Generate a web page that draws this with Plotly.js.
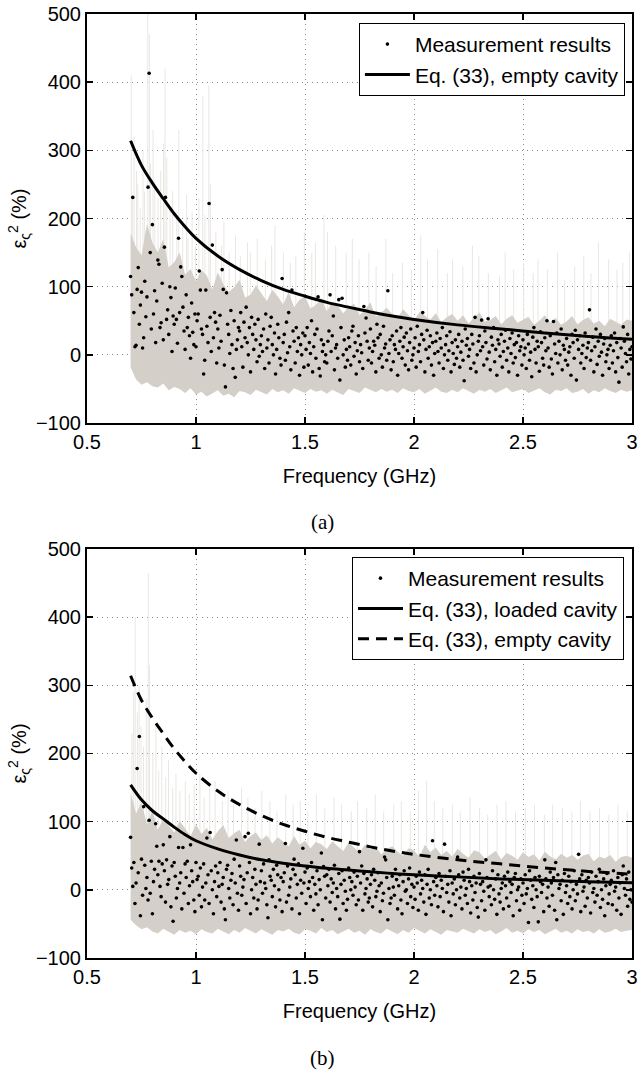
<!DOCTYPE html>
<html><head><meta charset="utf-8">
<script src="https://cdn.plot.ly/plotly-3.0.1.min.js"></script>
<style>html,body{margin:0;padding:0;background:#fff}#chart{width:638px;height:1073px}</style>
</head><body><div id="chart"></div>
<script>
// ---------- data ----------
const freq = [
0.700,0.705,0.710,0.715,0.720,0.725,0.730,0.735,0.740,0.745,0.750,0.755,0.760,0.765,0.770,0.775,0.780,0.785,0.790,0.795,
0.800,0.805,0.810,0.815,0.820,0.825,0.830,0.835,0.840,0.845,0.850,0.855,0.860,0.865,0.870,0.875,0.880,0.885,0.890,0.895,
0.900,0.905,0.910,0.915,0.920,0.925,0.930,0.935,0.940,0.945,0.950,0.955,0.960,0.965,0.970,0.975,0.980,0.985,0.990,0.995,
1.000,1.005,1.010,1.015,1.020,1.025,1.030,1.035,1.040,1.045,1.050,1.055,1.060,1.065,1.070,1.075,1.080,1.085,1.090,1.095,
1.100,1.105,1.110,1.115,1.120,1.125,1.130,1.135,1.140,1.145,1.150,1.155,1.160,1.165,1.170,1.175,1.180,1.185,1.190,1.195,
1.200,1.205,1.210,1.215,1.220,1.225,1.230,1.235,1.240,1.245,1.250,1.255,1.260,1.265,1.270,1.275,1.280,1.285,1.290,1.295,
1.300,1.305,1.310,1.315,1.320,1.325,1.330,1.335,1.340,1.345,1.350,1.355,1.360,1.365,1.370,1.375,1.380,1.385,1.390,1.395,
1.400,1.405,1.410,1.415,1.420,1.425,1.430,1.435,1.440,1.445,1.450,1.455,1.460,1.465,1.470,1.475,1.480,1.485,1.490,1.495,
1.500,1.505,1.510,1.515,1.520,1.525,1.530,1.535,1.540,1.545,1.550,1.555,1.560,1.565,1.570,1.575,1.580,1.585,1.590,1.595,
1.600,1.605,1.610,1.615,1.620,1.625,1.630,1.635,1.640,1.645,1.650,1.655,1.660,1.665,1.670,1.675,1.680,1.685,1.690,1.695,
1.700,1.705,1.710,1.715,1.720,1.725,1.730,1.735,1.740,1.745,1.750,1.755,1.760,1.765,1.770,1.775,1.780,1.785,1.790,1.795,
1.800,1.805,1.810,1.815,1.820,1.825,1.830,1.835,1.840,1.845,1.850,1.855,1.860,1.865,1.870,1.875,1.880,1.885,1.890,1.895,
1.900,1.905,1.910,1.915,1.920,1.925,1.930,1.935,1.940,1.945,1.950,1.955,1.960,1.965,1.970,1.975,1.980,1.985,1.990,1.995,
2.000,2.005,2.010,2.015,2.020,2.025,2.030,2.035,2.040,2.045,2.050,2.055,2.060,2.065,2.070,2.075,2.080,2.085,2.090,2.095,
2.100,2.105,2.110,2.115,2.120,2.125,2.130,2.135,2.140,2.145,2.150,2.155,2.160,2.165,2.170,2.175,2.180,2.185,2.190,2.195,
2.200,2.205,2.210,2.215,2.220,2.225,2.230,2.235,2.240,2.245,2.250,2.255,2.260,2.265,2.270,2.275,2.280,2.285,2.290,2.295,
2.300,2.305,2.310,2.315,2.320,2.325,2.330,2.335,2.340,2.345,2.350,2.355,2.360,2.365,2.370,2.375,2.380,2.385,2.390,2.395,
2.400,2.405,2.410,2.415,2.420,2.425,2.430,2.435,2.440,2.445,2.450,2.455,2.460,2.465,2.470,2.475,2.480,2.485,2.490,2.495,
2.500,2.505,2.510,2.515,2.520,2.525,2.530,2.535,2.540,2.545,2.550,2.555,2.560,2.565,2.570,2.575,2.580,2.585,2.590,2.595,
2.600,2.605,2.610,2.615,2.620,2.625,2.630,2.635,2.640,2.645,2.650,2.655,2.660,2.665,2.670,2.675,2.680,2.685,2.690,2.695,
2.700,2.705,2.710,2.715,2.720,2.725,2.730,2.735,2.740,2.745,2.750,2.755,2.760,2.765,2.770,2.775,2.780,2.785,2.790,2.795,
2.800,2.805,2.810,2.815,2.820,2.825,2.830,2.835,2.840,2.845,2.850,2.855,2.860,2.865,2.870,2.875,2.880,2.885,2.890,2.895,
2.900,2.905,2.910,2.915,2.920,2.925,2.930,2.935,2.940,2.945,2.950,2.955,2.960,2.965,2.970,2.975,2.980,2.985,2.990,2.995,
3.000];

// (a) measurement results, %
const measA = [
115,88,231,62,12,14,96,128,45,73,92,10,25,108,56,85,246,413,150,38,
191,60,94,18,79,139,133,40,47,105,22,158,231,52,66,30,100,84,5,57,
45,98,52,17,171,62,129,115,70,35,8,88,40,55,28,-5,76,33,15,60,
12,50,60,123,95,38,30,-28,-8,95,42,18,222,55,5,161,25,62,48,-12,
38,10,58,20,125,96,-15,-47,91,45,30,2,65,15,-20,50,-33,8,22,40,
35,62,12,-18,48,25,70,18,0,40,-25,55,30,8,45,22,-10,52,-2,15,
28,5,38,-20,60,10,22,-12,42,55,15,0,32,-28,8,45,25,-5,-15,112,
18,30,-8,48,3,62,12,-22,95,35,20,-12,40,5,25,-30,15,0,32,-18,
28,8,40,-15,18,2,50,-25,12,30,-5,38,85,-20,-31,22,5,15,-10,0,
-12,20,35,88,5,28,57,-22,10,15,-5,81,-37,40,83,0,22,-18,8,-8,
25,12,-15,35,42,-2,18,-28,6,28,-10,15,3,-20,71,32,54,20,-8,10,
38,-12,5,20,14,-25,45,25,-5,30,0,-18,42,10,16,-8,94,2,22,-22,
28,-10,15,8,35,-30,2,20,40,-5,12,26,-15,32,6,-22,18,38,-8,0,
10,25,-18,42,5,15,-10,30,62,22,-25,8,36,-5,12,28,-15,18,-30,2,
20,32,5,-12,24,10,40,-20,0,15,28,-8,6,34,-25,18,2,-14,22,-5,
12,30,-18,4,20,-8,-38,38,14,24,-2,8,-20,30,16,-12,55,-25,0,20,
28,6,51,12,-15,35,18,-6,53,4,-22,26,14,40,-10,8,-30,22,16,-2,
30,-18,5,20,36,-8,10,-25,24,2,32,-12,15,-4,18,-30,28,6,12,-15,
22,0,10,-20,30,16,-8,4,-32,26,40,8,-12,20,12,-24,34,18,-5,-15,
25,6,50,10,-18,28,-6,-28,49,16,2,32,-12,20,0,38,-22,14,8,-8,
24,-15,4,12,-30,30,18,-5,36,-37,22,8,28,-12,2,14,-20,32,-4,10,
18,66,-8,6,26,-25,12,38,-14,20,-2,30,4,-30,16,24,-10,0,8,-20,
14,28,-12,6,32,-25,18,-4,-40,24,10,-18,41,20,2,-10,30,-28,8,-6,
12];

// (b) measurement results, %
const measB = [
77,32,5,40,-20,10,178,25,225,-38,45,-8,122,36,2,18,-15,102,-5,42,
-35,12,30,97,64,22,42,5,-10,38,66,28,-18,44,8,15,78,-25,35,-46,
40,20,-12,2,62,10,25,-28,62,-5,38,18,42,-20,6,66,28,12,-15,-32,
40,15,20,-8,32,-25,4,38,-15,10,76,22,-20,84,28,0,-35,12,35,-10,
25,5,40,-18,8,18,-28,-44,30,36,2,-12,14,24,-22,45,10,73,-5,-30,
35,20,-8,4,15,78,-20,25,83,40,-35,0,18,-12,30,8,-28,-15,67,12,
28,-5,38,10,2,-22,-41,44,20,14,-10,30,6,-25,36,22,0,-15,18,-32,
12,25,68,-18,35,-8,4,16,-28,30,45,22,-12,8,38,-35,14,-5,61,10,
26,-20,32,2,12,-10,40,18,-30,8,-6,28,-22,15,0,54,-44,34,20,-12,
22,6,30,-18,16,-4,10,36,-28,2,-10,24,-43,8,28,-20,14,-2,-30,-14,
32,18,0,12,-8,26,4,-22,20,-15,56,10,35,-30,24,-6,2,16,-18,-12,
8,22,-25,30,14,-10,-2,25,6,-32,10,-16,-5,48,44,18,-44,2,-20,-12,
20,4,-8,30,15,-28,6,22,-15,-35,12,28,-2,0,-20,16,32,-10,8,-26,
4,-14,20,10,-30,26,-6,14,2,-18,22,-36,8,30,-12,0,-22,72,12,-8,
18,6,-25,24,-10,14,2,-32,67,20,-4,8,-18,28,-38,10,-6,16,-22,0,
48,22,-12,4,-28,26,14,-8,2,-20,30,12,-34,6,-15,20,-4,10,-26,-40,
24,8,-16,12,-2,-30,44,18,4,-10,6,-22,28,0,-14,16,-36,22,-6,-18,
2,10,-28,20,6,-12,26,-24,12,-4,8,-38,18,24,-16,0,4,-30,16,-8,
10,-20,22,-6,2,-48,28,14,-14,6,-26,18,0,-10,-47,20,12,-4,8,-32,
44,16,-12,4,-24,26,10,-8,18,-30,40,-44,22,2,8,-16,14,-36,24,-4,
6,-20,20,-10,12,-28,0,28,-16,8,-6,52,16,-32,22,-2,4,-24,14,-12,
18,10,-34,26,-4,2,-18,20,-8,12,30,-26,0,-14,16,-38,6,24,-20,-6,
8,14,-22,28,-2,4,-30,18,-12,10,-36,22,35,2,-8,16,-24,26,-14,0,
-18];

// grey band (spread of the measurements), lower / upper envelope
const bandFreq = [
0.700,0.725,0.750,0.775,0.800,0.825,0.850,0.875,0.900,0.925,0.950,0.975,
1.000,1.025,1.050,1.075,1.100,1.125,1.150,1.175,1.200,1.225,1.250,1.275,
1.300,1.325,1.350,1.375,1.400,1.425,1.450,1.475,1.500,1.525,1.550,1.575,
1.600,1.625,1.650,1.675,1.700,1.725,1.750,1.775,1.800,1.825,1.850,1.875,
1.900,1.925,1.950,1.975,2.000,2.025,2.050,2.075,2.100,2.125,2.150,2.175,
2.200,2.225,2.250,2.275,2.300,2.325,2.350,2.375,2.400,2.425,2.450,2.475,
2.500,2.525,2.550,2.575,2.600,2.625,2.650,2.675,2.700,2.725,2.750,2.775,
2.800,2.825,2.850,2.875,2.900,2.925,2.950,2.975,3.000];
const bandLoA = [
-18,-36,-44,-40,-46,-48,-42,-52,-47,-50,-56,-49,
-58,-54,-61,-56,-52,-60,-57,-62,-53,-55,-59,-51,
-54,-58,-50,-55,-52,-57,-49,-53,-56,-50,-54,-52,
-57,-51,-55,-59,-50,-53,-56,-48,-52,-55,-50,-54,
-51,-56,-49,-53,-55,-50,-57,-52,-48,-54,-56,-51,
-55,-49,-53,-57,-51,-54,-50,-56,-52,-48,-55,-53,
-50,-56,-52,-49,-55,-58,-51,-53,-49,-56,-54,-50,
-57,-52,-55,-49,-53,-56,-51,-54,-52];
const bandHiA = [
178,158,146,192,165,150,170,128,136,150,118,126,
108,124,116,96,121,104,92,99,110,84,88,102,
90,79,95,86,74,92,70,81,86,68,73,83,
64,78,72,61,70,75,58,66,77,56,62,69,
60,54,67,58,50,63,57,52,61,48,55,60,
50,58,46,54,62,49,51,57,45,53,58,47,
52,56,44,50,58,47,54,44,49,57,45,51,
55,46,50,42,53,48,44,52,50];
const bandLoB = [
-44,-52,-58,-55,-61,-64,-57,-62,-66,-59,-63,-60,
-65,-58,-62,-64,-57,-61,-65,-59,-63,-56,-60,-64,
-58,-62,-66,-59,-61,-57,-63,-65,-58,-60,-64,-56,
-62,-59,-65,-61,-57,-63,-60,-66,-58,-62,-64,-57,
-61,-65,-59,-63,-56,-60,-64,-58,-62,-66,-59,-61,
-63,-57,-60,-64,-58,-62,-59,-65,-61,-56,-63,-60,
-64,-58,-62,-59,-65,-61,-57,-63,-60,-64,-58,-62,
-60,-64,-58,-63,-61,-57,-62,-60,-59];
const bandHiB = [
142,112,128,96,116,88,104,94,84,101,90,79,
96,82,91,74,86,95,76,83,88,70,79,84,
73,80,68,77,71,64,79,66,72,61,70,67,
60,71,64,57,69,62,55,66,59,63,52,60,
64,56,50,61,58,48,66,55,62,51,57,49,
60,53,47,58,55,46,52,57,45,54,50,44,
55,48,52,43,56,49,45,53,47,51,44,50,
53,42,49,46,51,41,48,50,47];

// faint tall spikes of the grey band
const spikeXA = [0.703,0.709,0.716,0.727,0.733,0.744,0.757,0.764,0.779,0.786,0.791,0.803,0.811,0.826,0.838,0.851,0.858,0.866,0.881,0.893,0.912,0.921,0.939,0.957,0.963,0.982,0.997,1.013,1.031,1.041,1.059,1.066,1.091,1.117,1.128,1.152,1.181,1.203,1.236,1.249,1.281,1.318,1.347,1.362,1.401,1.433,1.458,1.497,1.531,1.548,1.587,1.603,1.641,1.689,1.717,1.748,1.793,1.826,1.871,1.902,1.947,1.988,2.031,2.062,2.109,2.153,2.177,2.224,2.268,2.297,2.341,2.392,2.418,2.457,2.503,2.547,2.569,2.612,2.658,2.691,2.737,2.779,2.812,2.846,2.893,2.931,2.958,2.989];
const spikeTopA = [410,230,320,270,250,215,300,240,500,470,280,330,255,230,270,310,420,290,215,240,200,330,190,235,170,210,160,230,380,205,395,250,180,160,195,150,175,145,165,150,170,140,160,190,150,135,145,180,150,165,205,180,160,150,170,140,150,130,170,120,135,125,175,140,155,120,140,130,160,145,120,115,150,125,135,120,140,125,150,110,130,145,120,165,140,125,135,150];
const spikeXB = [0.706,0.714,0.721,0.731,0.739,0.748,0.759,0.772,0.781,0.787,0.802,0.816,0.829,0.843,0.861,0.874,0.893,0.908,0.926,0.951,0.969,0.992,1.018,1.037,1.063,1.088,1.121,1.147,1.172,1.209,1.238,1.271,1.302,1.339,1.371,1.412,1.446,1.478,1.513,1.552,1.591,1.633,1.668,1.712,1.741,1.783,1.822,1.861,1.907,1.942,1.983,2.021,2.058,2.093,2.132,2.176,2.212,2.257,2.301,2.338,2.381,2.422,2.466,2.511,2.553,2.598,2.636,2.681,2.724,2.763,2.807,2.851,2.894,2.936,2.978];
const spikeTopB = [230,290,400,260,300,240,210,280,465,330,200,240,175,210,165,190,150,170,145,160,140,155,170,135,150,160,130,145,125,150,135,120,145,130,115,140,125,130,115,140,120,135,125,115,130,120,140,115,125,130,115,145,160,130,120,125,115,135,120,110,125,130,115,120,125,110,125,120,115,130,115,120,110,125,115];

// Eq. (33) curves
const curveFreq = [0.70,0.75,0.80,0.85,0.90,0.95,1.00,1.10,1.20,1.30,1.40,1.50,1.60,1.70,1.80,1.90,2.00,2.20,2.40,2.60,2.80,3.00];
const emptyCav  = [314,278,252,229,207,188,171,145,125,109,96,86,77,70,63,57,52,44,38,32,27,23];
const loadedCav = [154,132,116,104,92,81,72,60,51,44,39,35,31.5,29,26.5,24,22,19,16,14,12,10.5];

// axis ticks and labels
const xTicks = [0.5,1,1.5,2,2.5,3];
const xTickText = ['0.5','1','1.5','2','2.5','3'];
const yTicks = [-100,0,100,200,300,400,500];
const yTickText = ['\u2212100','0','100','200','300','400','500'];
const xTitle = 'Frequency (GHz)';
const yTitle = '\u03b5<sub>\u03c2</sub><sup>2</sup> (%)';
const legMeas = 'Measurement results';
const legEmpty = 'Eq. (33), empty cavity';
const legLoaded = 'Eq. (33), loaded cavity';

// ---------- drawing ----------
const FONT = '"Liberation Sans", Arial, Helvetica, sans-serif';
const bandColor = 'rgb(212,208,201)';
const spikeColor = 'rgb(233,231,227)';

function spikePath(xs, tops) {
  const x = [], y = [];
  xs.forEach((v, i) => { x.push(v, v, null); y.push(0, tops[i], null); });
  return {x, y};
}
const sA = spikePath(spikeXA, spikeTopA);
const sB = spikePath(spikeXB, spikeTopB);

function panel(xa, ya, sp, lo, hi, meas, leg) {
  return [
    {x: sp.x, y: sp.y, xaxis: xa, yaxis: ya, mode: 'lines', line: {color: spikeColor, width: 1},
     hoverinfo: 'skip', showlegend: false},
    {x: bandFreq, y: lo, xaxis: xa, yaxis: ya, mode: 'lines', line: {width: 0, color: bandColor},
     hoverinfo: 'skip', showlegend: false},
    {x: bandFreq, y: hi, xaxis: xa, yaxis: ya, mode: 'lines', fill: 'tonexty', fillcolor: bandColor,
     line: {width: 0, color: bandColor}, hoverinfo: 'skip', showlegend: false},
    {x: freq, y: meas, xaxis: xa, yaxis: ya, mode: 'markers', name: legMeas, legend: leg,
     marker: {color: 'black', size: 3.6}}
  ];
}

const traces = [].concat(
  panel('x', 'y', sA, bandLoA, bandHiA, measA, 'legend'),
  [{x: curveFreq, y: emptyCav, xaxis: 'x', yaxis: 'y', mode: 'lines', name: legEmpty, legend: 'legend',
    line: {color: 'black', width: 3, shape: 'spline'}}],
  panel('x2', 'y2', sB, bandLoB, bandHiB, measB, 'legend2'),
  [{x: curveFreq, y: loadedCav, xaxis: 'x2', yaxis: 'y2', mode: 'lines', name: legLoaded, legend: 'legend2',
    line: {color: 'black', width: 3, shape: 'spline'}},
   {x: curveFreq, y: emptyCav, xaxis: 'x2', yaxis: 'y2', mode: 'lines', name: legEmpty, legend: 'legend2',
    line: {color: 'black', width: 3, shape: 'spline', dash: '11px,7px'}}]
);

const common = {
  showline: true, linecolor: 'black', linewidth: 2, mirror: 'allticks',
  ticks: 'inside', ticklen: 6, tickwidth: 1.5, tickcolor: 'black',
  showgrid: true, gridcolor: '#8a8a8a', gridwidth: 1, griddash: '1px,4px',
  zeroline: false, tickfont: {family: FONT, size: 20, color: 'black'}, fixedrange: true
};
function xAxis(anchor) {
  return Object.assign({}, common, {anchor, domain: [0, 1], range: [0.5, 3],
    tickmode: 'array', tickvals: xTicks, ticktext: xTickText,
    title: {text: xTitle, font: {family: FONT, size: 20, color: 'black'}, standoff: 17}});
}
function yAxis(anchor, domain) {
  return Object.assign({}, common, {anchor, domain, range: [-100, 500],
    tickmode: 'array', tickvals: yTicks, ticktext: yTickText,
    title: {text: yTitle, font: {family: FONT, size: 20, color: 'black'}, standoff: 4}});
}
const legendBase = {
  xanchor: 'right', yanchor: 'top', bgcolor: 'white', bordercolor: 'black', borderwidth: 1,
  font: {family: FONT, size: 21, color: 'black'}, itemwidth: 45, traceorder: 'normal'
};

const layout = {
  width: 638, height: 1073,
  margin: {l: 87, r: 6, t: 14, b: 115},
  paper_bgcolor: 'white', plot_bgcolor: 'white',
  showlegend: true,
  xaxis: xAxis('y'), yaxis: yAxis('x', [0.5667, 1]),
  xaxis2: xAxis('y2'), yaxis2: yAxis('x2', [0, 0.4333]),
  legend: Object.assign({}, legendBase, {x: 0.987, y: 0.9905}),
  legend2: Object.assign({}, legendBase, {x: 0.9853, y: 0.4248}),
  annotations: [
    {text: '(a)', xref: 'paper', yref: 'paper', x: 0.433, y: 0.4619, showarrow: false,
     xanchor: 'center', yanchor: 'middle', font: {family: '"Liberation Serif", "Times New Roman", serif', size: 21, color: 'black'}},
    {text: '(b)', xref: 'paper', yref: 'paper', x: 0.433, y: -0.1059, showarrow: false,
     xanchor: 'center', yanchor: 'middle', font: {family: '"Liberation Serif", "Times New Roman", serif', size: 21, color: 'black'}}
  ]
};

Plotly.newPlot('chart', traces, layout, {staticPlot: true, displayModeBar: false});
</script>
</body></html>
